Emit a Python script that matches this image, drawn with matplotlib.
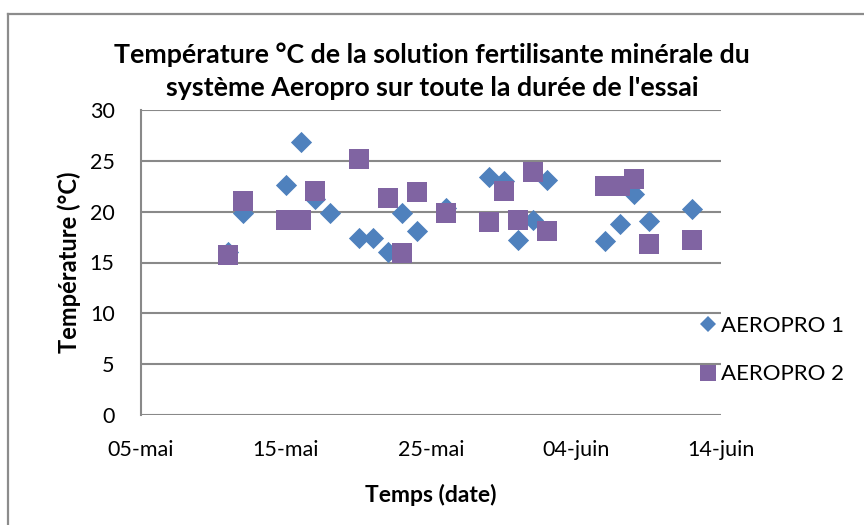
import matplotlib
matplotlib.use("Agg")
import matplotlib.pyplot as plt
from matplotlib.lines import Line2D
import datetime as dt

plt.rcParams['font.family'] = ['Lato', 'DejaVu Sans']

# ---- data ----
dates_1 = ["2013-05-11", "2013-05-12", "2013-05-15", "2013-05-16", "2013-05-17",
           "2013-05-18", "2013-05-20", "2013-05-21", "2013-05-22", "2013-05-23",
           "2013-05-24", "2013-05-26", "2013-05-29", "2013-05-30", "2013-05-31",
           "2013-06-01", "2013-06-02", "2013-06-06", "2013-06-07", "2013-06-08",
           "2013-06-09", "2013-06-12"]
aeropro_1 = [16.0, 19.9, 22.6, 26.9, 21.2, 19.9, 17.4, 17.4, 16.0, 19.9,
             18.1, 20.4, 23.4, 23.0, 17.2, 19.2, 23.1, 17.1, 18.8, 21.7,
             19.1, 20.3]

dates_2 = ["2013-05-11", "2013-05-12", "2013-05-15", "2013-05-16", "2013-05-17",
           "2013-05-20", "2013-05-22", "2013-05-23", "2013-05-24", "2013-05-26",
           "2013-05-29", "2013-05-30", "2013-05-31", "2013-06-01", "2013-06-02",
           "2013-06-06", "2013-06-07", "2013-06-08", "2013-06-09", "2013-06-12"]
aeropro_2 = [15.7, 21.0, 19.2, 19.2, 22.0, 25.2, 21.3, 15.9, 21.9, 19.9,
             19.0, 22.0, 19.2, 23.9, 18.1, 22.5, 22.5, 23.2, 16.8, 17.2]

x_ticks = ["2013-05-05", "2013-05-15", "2013-05-25", "2013-06-04", "2013-06-14"]
x_tick_labels = ["05-mai", "15-mai", "25-mai", "04-juin", "14-juin"]
y_ticks = [0, 5, 10, 15, 20, 25, 30]

series_names = ["AEROPRO 1", "AEROPRO 2"]
title = "Température °C de la solution fertilisante minérale du\nsystème Aeropro sur toute la durée de l'essai"

def to_dt(lst):
    return [dt.datetime.strptime(s, "%Y-%m-%d") for s in lst]

blue = "#4F81BD"
purple = "#8064A2"
grid_c = "#898989"

fig = plt.figure(figsize=(8.64, 5.25), dpi=100)
# outer chart border (only left and top edges visible in the crop)
fig.add_artist(Line2D([7.5/864, 7.5/864], [0, 1 - 14/525], transform=fig.transFigure,
                      color="#8c8c8c", linewidth=1.6))
fig.add_artist(Line2D([7.5/864, 1], [1 - 14/525, 1 - 14/525], transform=fig.transFigure,
                      color="#8c8c8c", linewidth=1.6))

ax = fig.add_axes([141/864, 1 - 415/525, 580/864, 305/525])
ax.scatter(to_dt(dates_1), aeropro_1, marker="D", s=10.8**2, color=blue,
           linewidths=0, zorder=3, label=series_names[0])
ax.scatter(to_dt(dates_2), aeropro_2, marker="s", s=14.5**2, color=purple,
           linewidths=0, zorder=4, label=series_names[1])

xt = to_dt(x_ticks)
ax.set_xlim(xt[0], xt[-1])
ax.set_ylim(0, 30)
ax.set_xticks(xt)
ax.set_xticklabels(x_tick_labels)
ax.set_yticks(y_ticks)
ax.tick_params(axis="both", length=0, labelsize=15.5, colors="black")
ax.tick_params(axis="x", pad=18)
ax.tick_params(axis="y", pad=19)
ax.yaxis.grid(True, color=grid_c, linewidth=1.5)
ax.set_axisbelow(True)
for s in ["top", "right", "bottom"]:
    ax.spines[s].set_visible(False)
ax.spines["left"].set_color(grid_c)
ax.spines["left"].set_linewidth(1.5)

ax.set_xlabel("Temps (date)", fontsize=16.5, fontweight="bold", labelpad=17)
ax.set_ylabel("Température (°C)", fontsize=17, fontweight="bold", labelpad=6)

fig.text(0.5, 1 - 71/525, title, ha="center", va="center", fontsize=19.3,
         fontweight="bold", linespacing=1.45)

handles = [Line2D([], [], marker="D", linestyle="none", color=blue, markersize=10.8 * 0.75, markeredgewidth=0),
           Line2D([], [], marker="s", linestyle="none", color=purple, markersize=14.5 * 0.75, markeredgewidth=0)]
fig.legend(handles, series_names, loc="center left", bbox_to_anchor=(681/864, 1 - 350/525),
           frameon=False, fontsize=16, handlelength=0.6, handletextpad=0.3,
           labelspacing=1.3)

fig.savefig("out.png", dpi=100)
